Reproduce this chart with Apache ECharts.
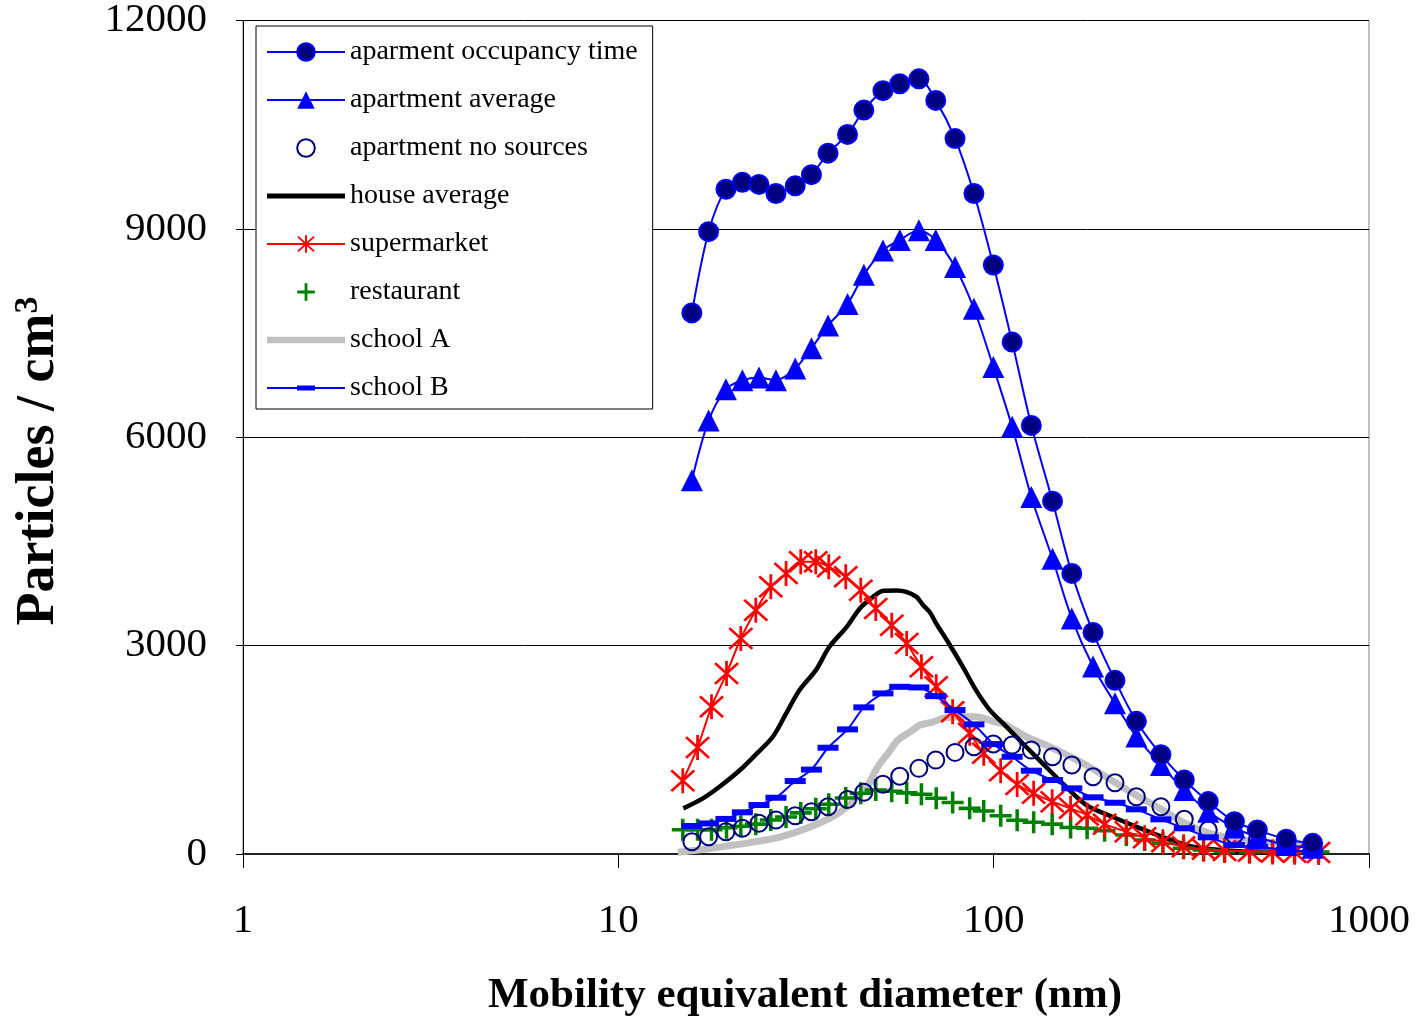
<!DOCTYPE html>
<html>
<head>
<meta charset="utf-8">
<script src="https://cdn.jsdelivr.net/npm/echarts@6/dist/echarts.min.js"></script>
<style>
  html, body { margin: 0; padding: 0; background: #fff; }
  #chart { width: 1417px; height: 1018px; }
</style>
</head>
<body>
<div id="chart"></div>
<script>
// ---- axis ticks ----
const xTicks = [1, 10, 100, 1000];
const yTicks = [0, 3000, 6000, 9000, 12000];

// ---- apartment / school B size grid (nm) ----
const apartmentDiameters = [15.7, 17.4, 19.35, 21.4, 23.7, 26.3, 29.6, 32.7, 36.2, 40.8, 45.1, 50.7, 56.2, 63.2, 70.1, 78.9, 88.6, 99.8, 112, 126, 143.5, 161.5, 184, 210.5, 240, 279, 322, 373, 438, 504, 602, 708];
const apartmentOccupancy = [7790, 8960, 9570, 9670, 9640, 9510, 9620, 9780, 10090, 10360, 10710, 10990, 11090, 11160, 10850, 10300, 9510, 8480, 7370, 6170, 5080, 4040, 3190, 2500, 1910, 1430, 1065, 755, 465, 345, 212, 154];
const apartmentAverage = [5380, 6240, 6690, 6820, 6860, 6820, 6990, 7280, 7610, 7920, 8340, 8690, 8840, 8980, 8840, 8450, 7850, 7010, 6150, 5140, 4250, 3390, 2700, 2170, 1690, 1280, 920, 610, 380, 245, 130, 90];
const apartmentNoSources = [177, 249, 321, 370, 442, 489, 550, 609, 681, 785, 890, 1005, 1120, 1233, 1352, 1463, 1544, 1583, 1568, 1496, 1400, 1281, 1112, 1026, 824, 681, 499, 345, 273, 201, 129, 82];
const schoolB = [403, 440, 505, 600, 705, 810, 1050, 1215, 1530, 1794, 2111, 2312, 2407, 2398, 2273, 2072, 1866, 1583, 1400, 1199, 1065, 945, 816, 738, 643, 499, 370, 240, 129, 105, 58, 33];

// ---- supermarket / restaurant size grid (nm) ----
const shopDiameters = [14.85, 16.26, 17.71, 19.42, 21.2, 23.24, 25.48, 27.98, 30.62, 33.57, 36.36, 40.36, 44.25, 48.51, 53.51, 58.65, 64.2, 70.3, 77.75, 86.3, 94.07, 104.4, 115.5, 127.8, 143.2, 160.3, 177.4, 197.5, 225.7, 252.5, 282.4, 320.6, 362.5, 412.3, 480.6, 553.4, 633.4, 733.9];
const supermarket = [1055, 1535, 2120, 2600, 3103, 3511, 3846, 4038, 4206, 4206, 4134, 3990, 3798, 3535, 3295, 3031, 2695, 2407, 2047, 1737, 1449, 1200, 1000, 873, 753, 657, 561, 430, 320, 235, 175, 105, 70, 50, 40, 30, 25, 20];
const restaurant = [350, 350, 350, 377, 398, 430, 489, 532, 592, 652, 717, 806, 873, 921, 902, 880, 860, 801, 740, 657, 620, 550, 485, 458, 430, 380, 370, 335, 273, 201, 154, 82, 58, 35, 30, 30, 30, 30];

// ---- house average ----
const houseDiameters = [14.9, 16.8, 18.6, 21.1, 23.4, 25.8, 28.0, 30.4, 33.6, 36.5, 40.6, 44.0, 47.7, 50.8, 55.1, 58.5, 62.3, 64.9, 67.6, 70.3, 76.0, 82.8, 89.7, 97.7, 106, 122, 135, 156, 176.6, 207, 246, 288, 339, 400, 505, 650];
const houseAverage = [657, 801, 968, 1209, 1449, 1688, 2024, 2360, 2647, 2983, 3271, 3535, 3702, 3789, 3795, 3774, 3702, 3580, 3480, 3319, 3031, 2695, 2360, 2072, 1880, 1544, 1305, 968, 705, 537, 370, 226, 105, 58, 25, 15];

// ---- school A ----
const schoolADiameters = [14.4, 16.5, 18.06, 22.2, 27.2, 33.4, 38.5, 43.5, 46.3, 49.1, 52.3, 55.6, 60.9, 63.6, 68.9, 73.1, 81.3, 89.6, 99.5, 108, 122, 144, 170, 199, 235, 277, 324, 376, 433, 507, 596, 707];
const schoolA = [25, 60, 90, 160, 250, 417, 585, 825, 1000, 1256, 1450, 1640, 1784, 1856, 1900, 1952, 1975, 1976, 1910, 1856, 1688, 1521, 1328, 1112, 873, 657, 441, 298, 226, 177, 154, 130];

const seriesNames = ['aparment occupancy time', 'apartment average', 'apartment no sources', 'house average', 'supermarket', 'restaurant', 'school A', 'school B'];

function pairs(xs, ys) { return xs.map((x, i) => [x, ys[i]]); }

const SERIF = '"Liberation Serif", "Times New Roman", serif';
const ASTERISK = 'path://M9,0H11V20H9Z M1,2.4L2.4,1L19,17.6L17.6,19Z M17.6,1L19,2.4L2.4,19L1,17.6Z';
const PLUS = 'path://M8.4,0H11.6V20H8.4Z M0,8.4H20V11.6H0Z';

const chart = echarts.init(document.getElementById('chart'), null, { renderer: 'canvas' });

chart.setOption({
  animation: false,
  backgroundColor: '#fff',
  grid: { left: 243, right: 48, top: 20, bottom: 164, show: true, borderColor: '#808080', borderWidth: 1, backgroundColor: 'transparent' },
  legend: {
    orient: 'vertical',
    left: 256, top: 26,
    padding: [12, 15, 7, 10],
    itemWidth: 78, itemHeight: 22, itemGap: 20,
    backgroundColor: '#fff', borderColor: '#000', borderWidth: 1,
    textStyle: { fontFamily: SERIF, fontSize: 28, color: '#000', lineHeight: 28 },
    data: [
      { name: seriesNames[0] },
      { name: seriesNames[1] },
      { name: seriesNames[2] },
      { name: seriesNames[3], icon: 'path://M0,0H78V5H0Z' },
      { name: seriesNames[4] },
      { name: seriesNames[5] },
      { name: seriesNames[6], icon: 'path://M0,0H82V7H0Z' },
      { name: seriesNames[7], icon: 'path://M0,10H78V12H0Z M30,8.5H48V13.5H30Z' }
    ]
  },
  xAxis: {
    type: 'log', logBase: 10,
    min: xTicks[0], max: xTicks[xTicks.length - 1],
    axisLine: { show: true, lineStyle: { color: '#222', width: 2 } },
    axisTick: { show: true, length: 14, lineStyle: { color: '#000', width: 1 } },
    minorTick: { show: false },
    splitLine: { show: false },
    axisLabel: { fontFamily: SERIF, fontSize: 41, color: '#000', margin: 47, formatter: v => String(Math.round(v)) }
  },
  yAxis: {
    type: 'value',
    min: yTicks[0], max: yTicks[yTicks.length - 1], interval: yTicks[1] - yTicks[0],
    axisLine: { show: true, lineStyle: { color: '#000', width: 1 } },
    axisTick: { show: true, length: 7, lineStyle: { color: '#000' } },
    splitLine: { show: true, lineStyle: { color: '#000', width: 1 } },
    axisLabel: { fontFamily: SERIF, fontSize: 41, color: '#000', margin: 36, formatter: v => String(v) }
  },
  graphic: [
    {
      type: 'text', left: 806 - 318, top: 974,
      style: { text: 'Mobility equivalent diameter (nm)', font: 'bold 43px ' + SERIF, fill: '#000' }
    },
    {
      type: 'text', x: 39, y: 461, rotation: Math.PI / 2,
      style: {
        text: '{a|Particles / cm}{s|3}',
        align: 'center', verticalAlign: 'middle',
        rich: {
          a: { fontFamily: SERIF, fontWeight: 'bold', fontSize: 54, fill: '#000', lineHeight: 56 },
          s: { fontFamily: SERIF, fontWeight: 'bold', fontSize: 34, fill: '#000', verticalAlign: 'top', lineHeight: 56 }
        }
      }
    }
  ],
  series: [
    {
      name: seriesNames[0], type: 'line', z: 9, smooth: 0.3,
      data: pairs(apartmentDiameters, apartmentOccupancy),
      symbol: 'circle', symbolSize: 19,
      lineStyle: { color: '#0000FF', width: 2 },
      itemStyle: { color: '#000080', borderColor: '#0000FF', borderWidth: 2 }
    },
    {
      name: seriesNames[1], type: 'line', z: 8, smooth: 0.3,
      data: pairs(apartmentDiameters, apartmentAverage),
      symbol: 'triangle', symbolSize: 22,
      lineStyle: { color: '#0000FF', width: 2 },
      itemStyle: { color: '#0000FF' }
    },
    {
      name: seriesNames[2], type: 'line', z: 6,
      data: pairs(apartmentDiameters, apartmentNoSources),
      symbol: 'circle', symbolSize: 17,
      lineStyle: { width: 0, opacity: 0 },
      itemStyle: { color: 'rgba(0,0,0,0)', borderColor: '#000080', borderWidth: 2 }
    },
    {
      name: seriesNames[3], type: 'line', z: 3, smooth: 0.3,
      data: pairs(houseDiameters, houseAverage),
      symbol: 'none',
      lineStyle: { color: '#000', width: 4.5 },
      itemStyle: { color: '#000' }
    },
    {
      name: seriesNames[4], type: 'line', z: 5, smooth: 0.3,
      data: pairs(shopDiameters, supermarket),
      symbol: ASTERISK, symbolSize: 25,
      lineStyle: { color: '#FF0000', width: 2 },
      itemStyle: { color: '#FF0000' }
    },
    {
      name: seriesNames[5], type: 'line', z: 4,
      data: pairs(shopDiameters, restaurant),
      symbol: PLUS, symbolSize: 22,
      lineStyle: { width: 0, opacity: 0 },
      itemStyle: { color: '#008000' }
    },
    {
      name: seriesNames[6], type: 'line', z: 2, smooth: 0.3,
      data: pairs(schoolADiameters, schoolA),
      symbol: 'none',
      lineStyle: { color: '#C0C0C0', width: 7 },
      itemStyle: { color: '#C0C0C0' }
    },
    {
      name: seriesNames[7], type: 'line', z: 7, smooth: 0.3,
      data: pairs(apartmentDiameters, schoolB),
      symbol: 'rect', symbolSize: [21, 6],
      lineStyle: { color: '#0000FF', width: 2 },
      itemStyle: { color: '#0000FF' }
    }
  ]
});
</script>
</body>
</html>
